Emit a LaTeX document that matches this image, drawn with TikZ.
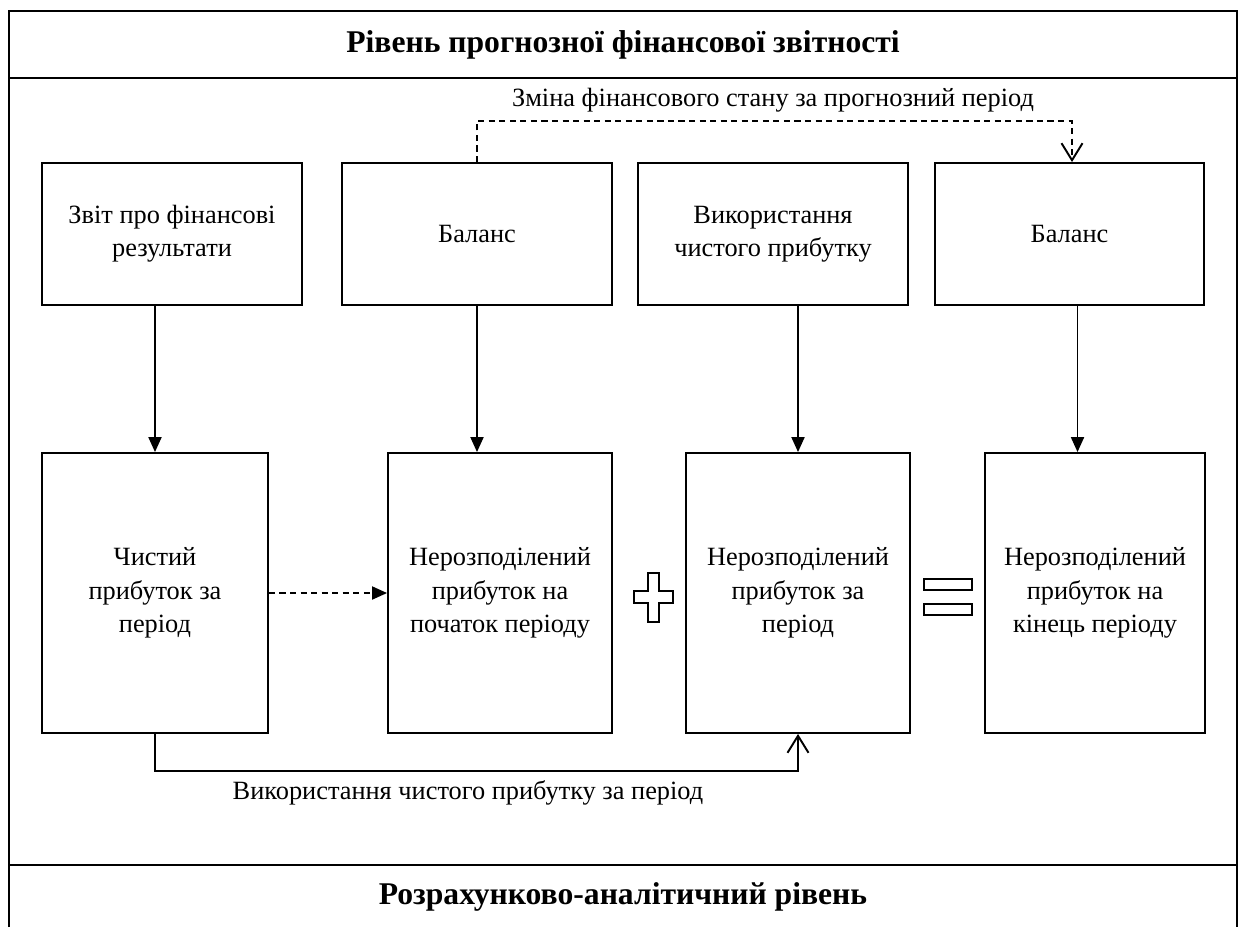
\documentclass[tikz,border=0pt]{standalone}
\usepackage{fontspec}
\setmainfont{Liberation Serif}
\usepackage{tikz}
\usetikzlibrary{positioning,arrows.meta}

\begin{document}
\begin{tikzpicture}[x=0.02cm, y=-0.02cm, line width=1.1pt,
                every node/.append style = {font=\fontsize{15}{19}\selectfont, align=center},
                box/.style = {draw, inner sep=2pt},
                head/.style = {font=\fontsize{18}{20}\selectfont\bfseries},
                arr/.style = {-{Triangle[length=0.3cm,width=0.26cm]}},
                barb/.style = {-{Straight Barb[length=0.34cm,width=0.42cm]}},
                dashln/.style = {dash pattern=on 3.5pt off 2.5pt}]
            \useasboundingbox (0,0) rectangle (1239,927);
            \draw (9,927) -- (9,11) -- (1237,11) -- (1237,927);
            \draw (9,78) -- (1237,78);
            \draw (9,865) -- (1237,865);
            \node[head] (lvl1) at (623,45) {Рівень прогнозної фінансової звітності};
            \node[head] (lvl2) at (623,897) {Розрахунково-аналітичний рівень};

            \node[box, minimum width=5.2cm, minimum height=2.84cm] (zvit) at (172,234) {Звіт про фінансові\\результати};
            \node[box, minimum width=5.4cm, minimum height=2.84cm] (bal1) at (477,234) {Баланс};
            \node[box, minimum width=5.4cm, minimum height=2.84cm] (vyk) at (773,234) {Використання\\чистого прибутку};
            \node[box, minimum width=5.38cm, minimum height=2.84cm] (bal2) at (1069.5,234) {Баланс};

            \node[box, minimum width=4.52cm, minimum height=5.6cm] (nrc) at (155,593) {Чистий\\прибуток за\\період};
            \node[box, minimum width=4.48cm, minimum height=5.6cm] (nrp) at (500,593) {Нерозподілений\\прибуток на\\початок періоду};
            \node[box, minimum width=4.48cm, minimum height=5.6cm] (nrz) at (798,593) {Нерозподілений\\прибуток за\\період};
            \node[box, minimum width=4.4cm, minimum height=5.6cm] (nrk) at (1095,593) {Нерозподілений\\прибуток на\\кінець періоду};

            \draw[arr] (zvit.south -| nrc.north) -- (nrc.north);
            \draw[arr] (bal1.south) -- (bal1.south |- nrp.north);
            \draw[arr] (vyk.south -| nrz.north) -- (nrz.north);
            \coordinate (b4) at ([xshift=0.16cm]bal2.south);
            \draw[arr] (b4) -- (b4 |- nrk.north);

            \node (zmina) at (773,100) {Зміна фінансового стану за прогнозний період};
            \coordinate (b2) at ([xshift=0.05cm]bal2.north);
            \draw[dashln, barb] (bal1.north) -- ++(0,-41) -| (b2);
            \draw[dashln, arr] (nrc.east) -- (nrp.west);

            \draw[barb] (nrc.south) -- ++(0,37) -| (nrz.south);
            \node (vykp) at (468,793) {Використання чистого прибутку за період};

            % plus and equals
            \draw (648,573) -- (659,573) -- (659,591) -- (673,591) -- (673,603) -- (659,603)
                  -- (659,622) -- (648,622) -- (648,603) -- (634,603) -- (634,591) -- (648,591) -- cycle;
            \draw (924,579) rectangle (972,590);
            \draw (924,604) rectangle (972,615);
\end{tikzpicture}
\end{document}
